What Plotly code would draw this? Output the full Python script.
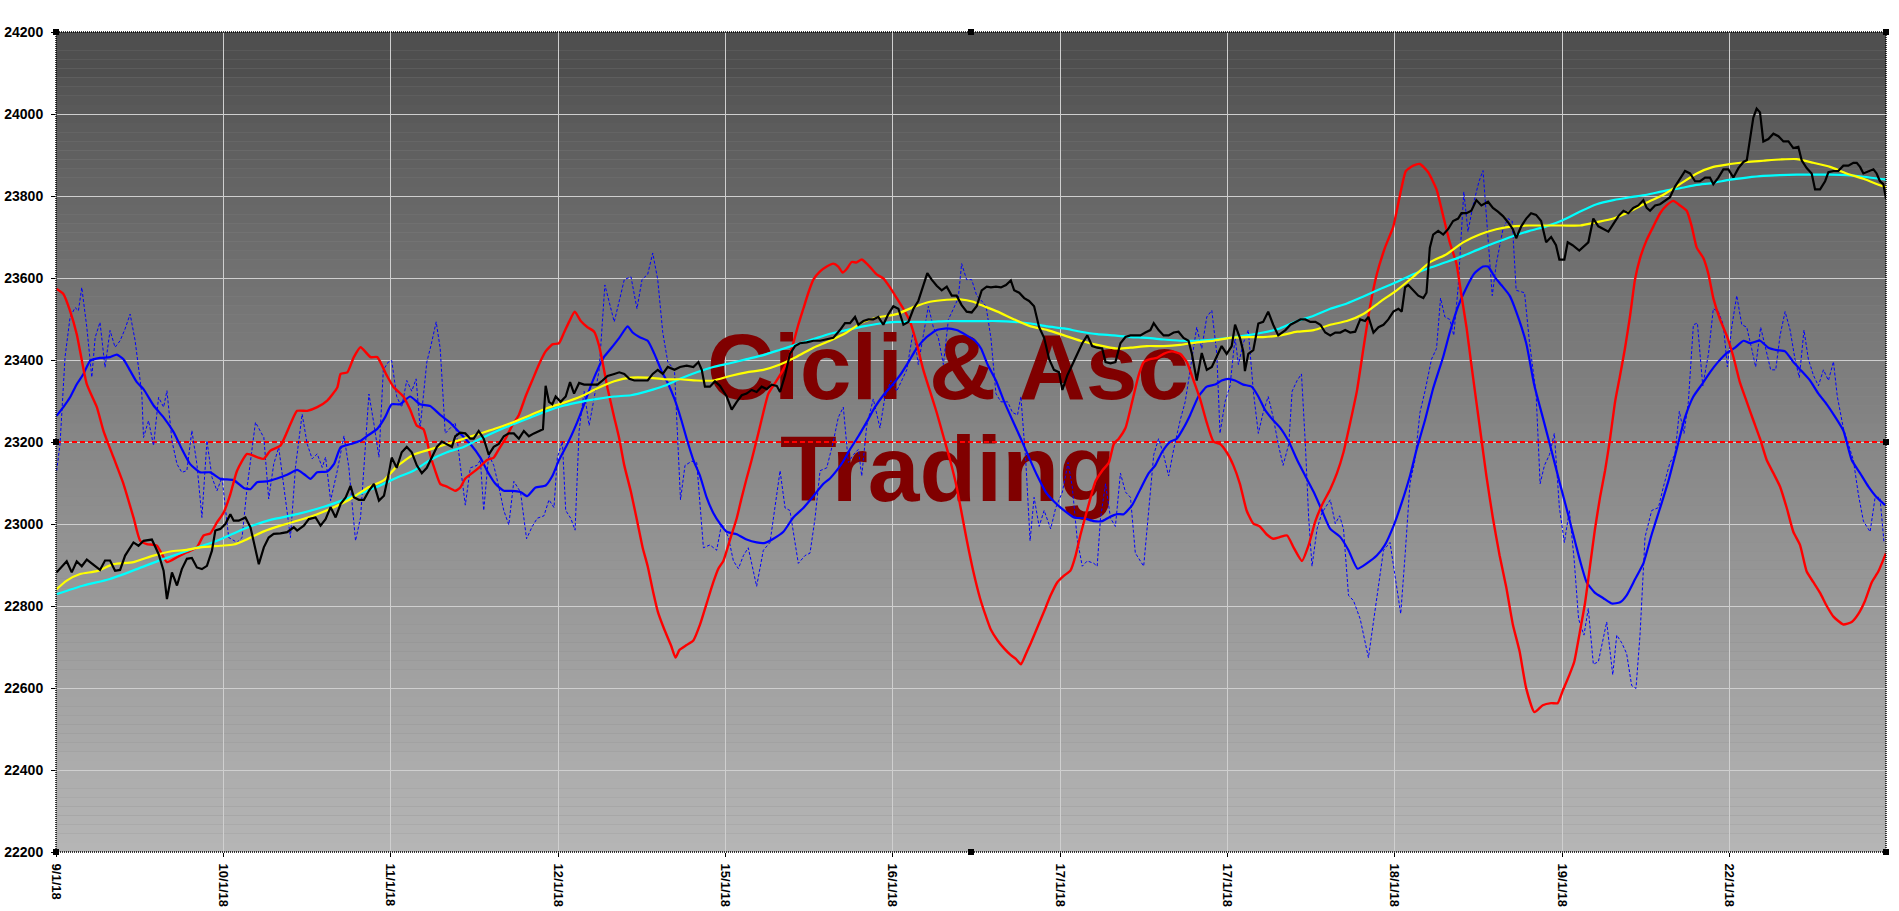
import plotly.graph_objects as go

# ---------------- data (x = position in date-label units, y = index level) ----------------
date_labels = ['9/1/18', '10/1/18', '11/1/18', '12/1/18', '15/1/18', '16/1/18',
               '17/1/18', '17/1/18', '18/1/18', '19/1/18', '22/1/18']
y_ticks = [22200, 22400, 22600, 22800, 23000, 23200, 23400, 23600, 23800, 24000, 24200]
zero_level = 23200
x_end = 10.936

price = [(0.004,22882),(0.064,22909),(0.094,22882),(0.124,22909),(0.154,22897),(0.184,22913),(0.244,22894),(0.263,22888),(0.293,22911),(0.323,22911),(0.353,22886),(0.383,22888),(0.413,22923),(0.463,22955),(0.493,22947),(0.523,22959),(0.573,22962),(0.613,22927),(0.643,22886),(0.663,22817),(0.693,22882),(0.723,22850),(0.752,22890),(0.782,22915),(0.812,22917),(0.842,22894),(0.872,22890),(0.902,22898),(0.932,22935),(0.952,22984),(0.982,22988),(1.012,23000),(1.042,23024),(1.062,23008),(1.092,23008),(1.132,23016),(1.162,22992),(1.192,22935),(1.212,22902),(1.242,22943),(1.271,22967),(1.301,22976),(1.341,22977),(1.381,22980),(1.421,22992),(1.441,22984),(1.481,22996),(1.511,23012),(1.551,23016),(1.581,22996),(1.611,23012),(1.641,23041),(1.671,23016),(1.701,23049),(1.731,23065),(1.760,23093),(1.780,23065),(1.810,23059),(1.840,23059),(1.870,23081),(1.900,23098),(1.930,23057),(1.960,23069),(1.990,23126),
         (2.006,23162),(2.036,23137),(2.066,23175),(2.096,23188),(2.126,23175),(2.156,23143),(2.186,23124),(2.216,23137),(2.246,23162),(2.276,23188),(2.306,23201),(2.336,23195),(2.366,23188),(2.386,23214),(2.416,23223),(2.446,23221),(2.476,23208),(2.496,23208),(2.526,23227),(2.556,23208),(2.586,23169),(2.616,23188),(2.646,23195),(2.676,23214),(2.706,23221),(2.736,23221),(2.766,23208),(2.796,23227),(2.826,23214),(2.856,23221),(2.886,23227),(2.910,23231),(2.926,23337),(2.946,23298),(2.966,23292),(2.986,23311),(3.016,23298),(3.046,23311),(3.072,23346),(3.096,23318),(3.126,23344),(3.156,23340),(3.196,23340),(3.236,23340),(3.266,23350),(3.296,23361),(3.336,23366),(3.366,23370),(3.396,23366),(3.426,23354),(3.456,23350),(3.496,23350),(3.536,23350),(3.566,23366),(3.596,23376),(3.626,23366),(3.656,23383),(3.696,23376),
         (3.729,23383),(3.769,23386),(3.809,23383),(3.839,23395),(3.859,23376),(3.878,23335),(3.908,23335),(3.938,23348),(3.968,23337),(4.008,23311),(4.038,23279),(4.068,23298),(4.098,23314),(4.127,23318),(4.157,23327),(4.187,23322),(4.217,23335),(4.247,23329),(4.277,23340),(4.307,23337),(4.327,23322),(4.357,23363),(4.386,23415),(4.416,23434),(4.446,23441),(4.486,23443),(4.526,23447),(4.566,23447),(4.606,23450),(4.645,23454),(4.685,23473),(4.715,23490),(4.745,23490),(4.775,23505),(4.795,23486),(4.825,23495),(4.855,23499),(4.884,23499),(4.914,23505),(4.944,23486),(4.974,23512),(5.004,23531),(5.034,23525),(5.064,23486),(5.094,23493),(5.124,23525),(5.153,23544),(5.183,23583),(5.207,23612),(5.233,23596),(5.263,23581),(5.293,23570),(5.323,23579),(5.353,23557),(5.382,23557),(5.412,23534),(5.442,23518),(5.472,23516),(5.502,23531),(5.532,23570),(5.562,23579),
         (5.587,23577),(5.617,23579),(5.647,23577),(5.677,23583),(5.706,23594),(5.726,23570),(5.756,23564),(5.786,23551),(5.815,23544),(5.845,23531),(5.875,23480),(5.905,23454),(5.935,23402),(5.964,23376),(5.994,23370),(6.014,23327),(6.044,23363),(6.073,23389),(6.103,23415),(6.133,23441),(6.163,23460),(6.192,23434),(6.222,23430),(6.252,23428),(6.272,23395),(6.302,23392),(6.331,23395),(6.361,23441),(6.391,23456),(6.421,23460),(6.450,23460),(6.480,23460),(6.510,23467),(6.540,23473),(6.560,23490),(6.589,23473),(6.619,23460),(6.649,23460),(6.679,23467),(6.708,23469),(6.738,23454),(6.768,23447),(6.788,23415),(6.817,23350),(6.847,23417),(6.877,23376),(6.907,23383),(6.937,23408),(6.966,23434),(6.996,23415),(7.026,23434),(7.046,23486),(7.075,23454),(7.095,23421),(7.105,23373),(7.125,23415),(7.155,23424),(7.185,23489),(7.214,23493),(7.244,23518),(7.274,23486),(7.304,23460),
         (7.347,23473),(7.377,23486),(7.407,23493),(7.437,23499),(7.466,23499),(7.496,23493),(7.526,23493),(7.556,23486),(7.585,23467),(7.615,23460),(7.645,23467),(7.675,23467),(7.704,23473),(7.734,23467),(7.764,23469),(7.794,23499),(7.823,23495),(7.843,23505),(7.873,23467),(7.903,23480),(7.933,23486),(7.962,23499),(7.992,23518),(8.022,23525),(8.042,23518),(8.062,23577),(8.081,23583),(8.111,23570),(8.141,23557),(8.171,23551),(8.190,23564),(8.210,23674),(8.230,23706),(8.260,23715),(8.290,23706),(8.319,23719),(8.349,23739),(8.379,23745),(8.399,23758),(8.429,23758),(8.458,23764),(8.488,23790),(8.518,23777),(8.558,23786),(8.587,23771),(8.617,23762),(8.647,23751),(8.677,23736),(8.706,23719),(8.726,23697),(8.756,23726),(8.786,23745),(8.815,23758),(8.845,23754),(8.875,23739),(8.905,23687),(8.935,23700),(8.964,23680),(8.984,23645),(9.014,23645),(9.034,23687),(9.063,23680),(9.103,23667),
         (9.157,23687),(9.187,23745),(9.217,23726),(9.247,23719),(9.277,23713),(9.307,23732),(9.337,23751),(9.367,23764),(9.396,23758),(9.426,23771),(9.456,23777),(9.486,23790),(9.506,23771),(9.526,23764),(9.556,23777),(9.586,23780),(9.616,23788),(9.645,23797),(9.675,23823),(9.705,23842),(9.735,23861),(9.765,23855),(9.795,23836),(9.825,23836),(9.855,23845),(9.884,23845),(9.904,23829),(9.934,23845),(9.964,23865),(9.994,23865),(10.024,23845),(10.054,23868),(10.084,23883),(10.104,23887),(10.124,23946),(10.143,23991),(10.163,24013),(10.183,24004),(10.203,23933),(10.233,23939),(10.263,23952),(10.293,23946),(10.323,23933),(10.353,23933),(10.382,23917),(10.412,23920),(10.432,23887),(10.462,23868),(10.492,23855),(10.512,23816),(10.542,23816),(10.572,23836),(10.592,23858),(10.622,23861),(10.651,23861),(10.681,23874),(10.711,23874),(10.741,23881),(10.761,23881),(10.781,23871),(10.801,23855),(10.831,23861),(10.861,23865),(10.880,23855),(10.900,23836),(10.920,23829),(10.936,23793)]

fast_ma = [(0.004,22841),(0.064,22862),(0.144,22878),(0.244,22885),(0.343,22902),(0.463,22907),(0.583,22923),(0.683,22933),(0.782,22937),(0.862,22943),(0.982,22947),(1.062,22950),(1.142,22963),(1.242,22982),(1.341,22996),(1.441,23008),(1.561,23024),(1.661,23041),(1.760,23061),(1.860,23088),(1.960,23107),(2.036,23140),(2.136,23169),(2.236,23182),(2.336,23195),(2.436,23208),(2.536,23221),(2.636,23234),(2.736,23249),(2.836,23266),(2.936,23283),(3.036,23296),(3.136,23311),(3.236,23331),(3.336,23348),(3.436,23357),(3.536,23357),(3.636,23353),(3.729,23353),(3.829,23350),(3.928,23350),(4.028,23361),(4.127,23370),(4.227,23376),(4.327,23389),(4.426,23408),(4.526,23430),(4.625,23447),(4.725,23467),(4.825,23493),(4.924,23505),(5.024,23512),(5.124,23529),(5.223,23542),(5.323,23547),(5.402,23548),(5.482,23542),(5.528,23534),(5.627,23518),(5.726,23499),(5.825,23482),(5.925,23473),(6.024,23460),(6.123,23447),(6.222,23437),(6.341,23428),(6.421,23430),(6.520,23434),(6.619,23434),(6.718,23437),(6.817,23443),(6.917,23447),(7.016,23454),(7.115,23456),(7.214,23456),(7.313,23460),(7.417,23469),(7.516,23473),(7.615,23486),(7.714,23495),(7.813,23512),(7.913,23542),(8.012,23570),(8.111,23603),(8.210,23638),(8.310,23658),(8.409,23687),(8.508,23706),(8.607,23719),(8.706,23726),(8.806,23728),(8.905,23728),(9.004,23728),(9.108,23728),(9.207,23736),(9.307,23745),(9.406,23762),(9.506,23784),(9.606,23803),(9.705,23829),(9.805,23855),(9.904,23871),(10.004,23878),(10.104,23883),(10.203,23886),(10.303,23889),(10.402,23890),(10.502,23881),(10.602,23871),(10.701,23855),(10.801,23842),(10.900,23826),(10.936,23821)]

slow_ma = [(0.004,22829),(0.164,22850),(0.323,22866),(0.483,22890),(0.643,22915),(0.802,22937),(0.962,22959),(1.122,22988),(1.281,23010),(1.441,23024),(1.601,23042),(1.760,23065),(1.920,23091),(2.036,23113),(2.136,23130),(2.236,23156),(2.336,23175),(2.436,23188),(2.536,23208),(2.636,23227),(2.736,23244),(2.836,23260),(2.936,23276),(3.036,23289),(3.136,23298),(3.236,23305),(3.336,23311),(3.436,23314),(3.536,23324),(3.636,23337),(3.729,23354),(3.829,23370),(3.928,23383),(4.028,23392),(4.127,23402),(4.227,23412),(4.327,23425),(4.426,23438),(4.526,23451),(4.625,23464),(4.725,23473),(4.825,23482),(4.924,23489),(5.024,23493),(5.124,23493),(5.223,23493),(5.323,23495),(5.422,23495),(5.528,23495),(5.627,23495),(5.726,23493),(5.825,23489),(5.925,23482),(6.024,23477),(6.123,23469),(6.222,23463),(6.321,23460),(6.421,23456),(6.520,23454),(6.619,23450),(6.718,23447),(6.817,23447),(6.917,23450),(7.016,23454),(7.115,23460),(7.214,23467),(7.313,23477),(7.417,23495),(7.516,23508),(7.615,23525),(7.714,23538),(7.813,23555),(7.913,23573),(8.012,23590),(8.111,23609),(8.210,23625),(8.310,23639),(8.409,23654),(8.508,23671),(8.607,23687),(8.706,23702),(8.806,23715),(8.905,23726),(9.004,23741),(9.108,23762),(9.207,23780),(9.307,23790),(9.406,23797),(9.506,23803),(9.606,23812),(9.705,23819),(9.805,23827),(9.904,23832),(10.004,23840),(10.104,23845),(10.203,23849),(10.303,23851),(10.402,23852),(10.502,23852),(10.602,23852),(10.701,23851),(10.801,23847),(10.936,23840)]

cycle_red = [(0.004,23573),(0.044,23561),(0.084,23520),(0.124,23463),(0.184,23341),(0.244,23285),(0.283,23228),(0.343,23163),(0.403,23098),(0.463,23016),(0.503,22959),(0.543,22951),(0.603,22947),(0.663,22907),(0.723,22919),(0.782,22931),(0.842,22943),(0.882,22972),(0.922,22977),(0.962,23004),(1.002,23028),(1.042,23073),(1.082,23130),(1.142,23171),(1.202,23163),(1.242,23159),(1.281,23179),(1.341,23191),(1.401,23244),(1.441,23276),(1.501,23276),(1.561,23285),(1.621,23301),(1.681,23333),(1.701,23366),(1.741,23370),(1.780,23407),(1.820,23431),(1.880,23407),(1.920,23407),(1.976,23363),(2.016,23335),(2.076,23311),(2.116,23279),(2.156,23240),(2.196,23231),(2.236,23169),(2.266,23130),(2.296,23098),(2.336,23091),(2.386,23081),(2.416,23089),(2.446,23111),(2.486,23124),(2.526,23137),(2.576,23156),(2.616,23162),(2.646,23182),(2.686,23208),(2.726,23240),(2.766,23266),(2.806,23311),(2.846,23350),(2.886,23389),(2.926,23421),(2.966,23438),(3.006,23441),(3.036,23467),(3.066,23493),(3.100,23518),(3.136,23495),(3.176,23480),(3.216,23469),(3.246,23434),(3.266,23395),(3.296,23331),(3.336,23260),(3.366,23208),(3.396,23143),(3.436,23078),(3.476,23001),(3.506,22942),(3.536,22897),(3.566,22839),(3.596,22787),(3.636,22742),(3.676,22703),(3.702,22674),(3.726,22693),(3.769,22705),(3.809,22716),(3.849,22755),(3.888,22806),(3.928,22858),(3.958,22891),(3.988,22910),(4.028,22962),(4.068,23014),(4.098,23065),(4.127,23111),(4.157,23156),(4.197,23221),(4.227,23272),(4.257,23318),(4.297,23344),(4.337,23370),(4.376,23402),(4.406,23441),(4.436,23486),(4.466,23525),(4.496,23564),(4.526,23596),(4.566,23616),(4.606,23628),(4.645,23635),(4.675,23628),(4.701,23613),(4.725,23622),(4.755,23639),(4.785,23638),(4.815,23645),(4.845,23635),(4.875,23622),(4.904,23609),(4.944,23599),(4.984,23577),(5.024,23551),(5.064,23525),(5.104,23493),(5.143,23441),(5.183,23376),(5.223,23324),(5.263,23272),(5.303,23214),(5.343,23156),(5.382,23091),(5.412,23027),(5.442,22962),(5.482,22884),(5.522,22819),(5.558,22774),(5.587,22742),(5.627,22716),(5.667,22696),(5.706,22680),(5.736,22671),(5.766,22658),(5.796,22683),(5.825,22709),(5.865,22748),(5.905,22787),(5.944,22826),(5.984,22858),(6.024,22874),(6.063,22887),(6.093,22923),(6.123,22975),(6.153,23020),(6.183,23065),(6.212,23104),(6.252,23130),(6.292,23150),(6.321,23195),(6.351,23208),(6.391,23234),(6.431,23298),(6.470,23363),(6.500,23395),(6.540,23402),(6.579,23405),(6.619,23415),(6.669,23421),(6.718,23415),(6.758,23395),(6.798,23350),(6.837,23305),(6.877,23247),(6.917,23201),(6.956,23195),(6.996,23175),(7.036,23143),(7.075,23098),(7.115,23033),(7.155,23001),(7.194,22994),(7.234,22975),(7.274,22964),(7.313,22968),(7.357,22972),(7.397,22942),(7.446,22910),(7.486,22949),(7.526,23007),(7.565,23046),(7.615,23085),(7.655,23124),(7.694,23175),(7.734,23247),(7.774,23324),(7.813,23428),(7.853,23531),(7.893,23609),(7.942,23674),(7.992,23726),(8.032,23803),(8.067,23861),(8.111,23874),(8.151,23878),(8.200,23858),(8.250,23816),(8.290,23751),(8.329,23687),(8.369,23635),(8.399,23557),(8.429,23480),(8.458,23389),(8.488,23298),(8.518,23208),(8.548,23117),(8.587,23014),(8.627,22923),(8.667,22845),(8.706,22755),(8.746,22690),(8.786,22599),(8.835,22541),(8.885,22558),(8.935,22563),(8.974,22563),(9.004,22593),(9.044,22632),(9.073,22664),(9.103,22729),(9.137,22806),(9.167,22897),(9.197,22988),(9.227,23065),(9.257,23130),(9.287,23208),(9.317,23298),(9.347,23363),(9.376,23428),(9.406,23506),(9.436,23596),(9.466,23648),(9.506,23693),(9.546,23726),(9.586,23758),(9.625,23777),(9.665,23788),(9.705,23777),(9.745,23764),(9.775,23726),(9.805,23674),(9.845,23648),(9.875,23609),(9.904,23551),(9.944,23499),(9.984,23460),(10.024,23408),(10.064,23344),(10.104,23298),(10.143,23253),(10.183,23208),(10.223,23156),(10.263,23124),(10.303,23091),(10.343,23039),(10.382,22981),(10.422,22949),(10.462,22884),(10.502,22858),(10.542,22832),(10.582,22800),(10.622,22774),(10.681,22755),(10.731,22761),(10.771,22781),(10.811,22813),(10.851,22858),(10.890,22884),(10.936,22929)]

cycle_blue = [(0.004,23264),(0.044,23285),(0.084,23309),(0.124,23341),(0.164,23366),(0.204,23398),(0.263,23405),(0.323,23407),(0.363,23413),(0.403,23402),(0.443,23374),(0.483,23346),(0.523,23329),(0.583,23289),(0.643,23260),(0.703,23224),(0.752,23183),(0.802,23146),(0.862,23126),(0.922,23126),(0.982,23110),(1.062,23107),(1.122,23088),(1.162,23085),(1.202,23102),(1.261,23104),(1.321,23111),(1.381,23120),(1.441,23132),(1.481,23122),(1.521,23110),(1.561,23126),(1.621,23128),(1.661,23146),(1.701,23187),(1.760,23195),(1.820,23203),(1.860,23215),(1.920,23232),(1.966,23260),(2.006,23292),(2.056,23292),(2.116,23311),(2.176,23292),(2.236,23288),(2.296,23266),(2.356,23247),(2.416,23221),(2.476,23195),(2.536,23162),(2.576,23130),(2.626,23098),(2.676,23081),(2.726,23081),(2.776,23078),(2.816,23068),(2.866,23089),(2.926,23094),(2.966,23117),(3.006,23156),(3.056,23195),(3.106,23240),(3.156,23292),(3.196,23337),(3.236,23376),(3.276,23408),(3.316,23428),(3.366,23454),(3.416,23482),(3.446,23467),(3.486,23456),(3.536,23447),(3.576,23415),(3.616,23376),(3.656,23344),(3.696,23305),(3.736,23255),(3.769,23208),(3.809,23156),(3.849,23117),(3.888,23065),(3.928,23027),(3.968,23001),(4.008,22981),(4.068,22975),(4.127,22962),(4.187,22955),(4.237,22954),(4.287,22964),(4.347,22981),(4.406,23016),(4.466,23039),(4.526,23068),(4.586,23098),(4.625,23111),(4.665,23130),(4.705,23153),(4.745,23182),(4.795,23214),(4.845,23249),(4.894,23285),(4.944,23314),(4.994,23337),(5.044,23363),(5.094,23395),(5.143,23428),(5.203,23456),(5.263,23473),(5.323,23477),(5.382,23473),(5.442,23460),(5.492,23447),(5.528,23428),(5.567,23389),(5.617,23350),(5.667,23298),(5.716,23253),(5.766,23208),(5.815,23162),(5.865,23117),(5.915,23078),(5.964,23055),(6.024,23033),(6.083,23016),(6.143,23014),(6.202,23007),(6.252,23007),(6.292,23016),(6.341,23024),(6.381,23024),(6.431,23046),(6.480,23085),(6.530,23124),(6.569,23143),(6.609,23175),(6.659,23201),(6.698,23208),(6.738,23234),(6.778,23266),(6.827,23311),(6.877,23335),(6.927,23340),(6.966,23350),(7.006,23354),(7.046,23350),(7.095,23340),(7.145,23335),(7.185,23311),(7.224,23279),(7.274,23253),(7.317,23234),(7.367,23201),(7.417,23156),(7.466,23117),(7.516,23078),(7.565,23033),(7.615,22988),(7.675,22968),(7.724,22936),(7.778,22891),(7.833,22904),(7.893,22923),(7.942,22949),(7.992,22994),(8.042,23052),(8.091,23117),(8.131,23182),(8.181,23253),(8.230,23331),(8.290,23408),(8.329,23467),(8.379,23531),(8.429,23577),(8.478,23612),(8.528,23628),(8.558,23628),(8.597,23603),(8.637,23583),(8.687,23557),(8.726,23518),(8.786,23441),(8.835,23337),(8.885,23260),(8.935,23182),(8.984,23104),(9.034,23027),(9.083,22949),(9.108,22910),(9.147,22858),(9.197,22832),(9.247,22819),(9.297,22806),(9.347,22809),(9.386,22826),(9.436,22865),(9.486,22904),(9.536,22975),(9.586,23039),(9.635,23104),(9.685,23182),(9.735,23260),(9.785,23311),(9.835,23340),(9.884,23370),(9.934,23396),(9.984,23417),(10.034,23430),(10.084,23447),(10.124,23441),(10.183,23447),(10.233,23430),(10.283,23424),(10.333,23421),(10.382,23395),(10.432,23373),(10.482,23350),(10.532,23318),(10.582,23292),(10.631,23262),(10.681,23228),(10.731,23156),(10.781,23124),(10.831,23091),(10.880,23065),(10.930,23046)]

cycle_raw = [(0.004,23130),(0.024,23195),(0.054,23407),(0.084,23504),(0.114,23528),(0.134,23520),(0.154,23577),(0.184,23480),(0.214,23358),(0.234,23455),(0.263,23492),(0.293,23382),(0.323,23472),(0.353,23431),(0.383,23447),(0.413,23476),(0.443,23512),(0.473,23447),(0.513,23317),(0.523,23211),(0.553,23252),(0.583,23191),(0.613,23309),(0.643,23285),(0.663,23325),(0.693,23203),(0.723,23146),(0.752,23126),(0.782,23130),(0.812,23228),(0.842,23146),(0.872,23016),(0.902,23203),(0.932,23114),(0.962,23081),(0.992,23114),(1.032,22967),(1.062,22959),(1.082,22955),(1.112,22967),(1.142,23089),(1.192,23248),(1.242,23211),(1.271,23061),(1.301,23146),(1.331,23187),(1.361,23089),(1.401,22967),(1.431,23138),(1.471,23268),(1.501,23195),(1.531,23159),(1.561,23171),(1.591,23138),(1.611,23163),(1.641,23057),(1.681,23130),(1.721,23215),(1.750,23138),(1.790,22959),(1.820,23016),(1.870,23317),(1.900,23244),(1.930,23163),
             (1.956,23376),(1.986,23395),(2.006,23399),(2.036,23311),(2.066,23285),(2.096,23350),(2.126,23324),(2.152,23354),(2.176,23234),(2.216,23395),(2.240,23434),(2.272,23493),(2.296,23428),(2.326,23221),(2.356,23234),(2.386,23247),(2.416,23143),(2.446,23046),(2.476,23137),(2.516,23143),(2.536,23156),(2.556,23033),(2.586,23169),(2.616,23143),(2.646,23091),(2.676,23033),(2.706,22998),(2.736,23104),(2.776,23078),(2.812,22964),(2.846,22994),(2.876,23014),(2.916,23020),(2.946,23059),(2.976,23040),(2.996,23162),(3.026,23201),(3.046,23033),(3.076,23014),(3.102,22985),(3.126,23227),(3.156,23324),(3.186,23240),(3.216,23311),(3.246,23376),(3.280,23583),(3.306,23544),(3.336,23493),(3.366,23544),(3.396,23596),(3.436,23603),(3.472,23525),(3.502,23596),(3.536,23609),(3.566,23661),(3.596,23596),(3.626,23467),(3.656,23395),(3.696,23376),(3.732,23059),(3.759,23143),(3.799,23153),(3.829,23150),(3.869,22942),(3.908,22949),(3.948,22936),(3.978,23001),(4.018,22968),(4.048,22910),(4.078,22891),(4.108,22923),(4.137,22942),(4.187,22848),(4.227,22936),(4.267,22955),(4.297,23039),(4.327,23130),(4.357,23039),(4.386,23033),(4.436,22904),(4.476,22923),(4.506,22929),(4.536,23014),(4.566,23130),(4.606,23137),(4.645,23201),(4.675,23260),(4.705,23285),(4.735,23150),(4.765,23169),(4.795,23182),(4.815,23117),(4.845,23240),(4.884,23305),(4.924,23234),(4.954,23311),(4.990,23350),(5.024,23324),(5.054,23350),(5.084,23376),(5.124,23473),(5.153,23389),(5.183,23460),(5.213,23531),(5.243,23480),(5.273,23454),(5.303,23389),(5.333,23499),(5.363,23525),(5.392,23551),(5.412,23635),(5.442,23596),(5.472,23596),(5.502,23557),(5.532,23544),(5.558,23531),(5.587,23454),(5.617,23318),(5.647,23298),(5.687,23298),(5.716,23272),(5.746,23266),(5.766,23311),(5.796,23150),(5.821,22959),(5.845,23065),(5.875,22994),(5.905,23033),(5.944,22988),(5.974,23039),(6.014,23078),(6.048,23150),(6.073,23091),(6.103,22962),(6.133,22897),(6.163,22910),(6.202,22904),(6.222,22897),(6.242,23014),(6.272,23098),(6.302,23014),(6.331,22994),(6.361,23124),(6.391,23078),(6.421,23065),(6.450,22929),(6.500,22897),(6.530,23040),(6.560,23169),(6.589,23208),(6.619,23169),(6.649,23117),(6.679,23182),(6.718,23253),(6.748,23298),(6.778,23376),(6.817,23480),(6.847,23428),(6.877,23505),(6.907,23521),(6.937,23415),(6.956,23221),(6.986,23298),(7.016,23337),(7.046,23454),(7.066,23389),(7.095,23441),(7.125,23473),(7.155,23324),(7.185,23221),(7.214,23272),(7.244,23311),(7.274,23260),(7.304,23195),(7.333,23143),(7.367,23195),(7.387,23324),(7.417,23350),(7.443,23366),(7.466,23195),(7.486,23014),(7.506,22897),(7.536,22988),(7.565,23027),(7.615,23059),(7.645,23001),(7.671,23020),(7.694,22988),(7.724,22826),(7.754,22813),(7.794,22768),(7.843,22674),(7.883,22794),(7.933,22936),(7.972,22955),(8.002,22871),(8.036,22781),(8.062,22923),(8.091,23098),(8.121,23156),(8.151,23272),(8.181,23324),(8.220,23402),(8.250,23428),(8.274,23551),(8.300,23505),(8.329,23499),(8.353,23460),(8.379,23577),(8.413,23810),(8.438,23713),(8.468,23777),(8.504,23836),(8.528,23862),(8.558,23706),(8.583,23557),(8.607,23635),(8.647,23719),(8.677,23745),(8.702,23739),(8.726,23570),(8.776,23564),(8.806,23441),(8.845,23318),(8.869,23098),(8.895,23143),(8.925,23169),(8.954,23221),(8.984,23040),(9.014,22955),(9.044,23033),(9.073,22910),(9.099,22768),(9.131,22729),(9.157,22794),(9.187,22658),(9.217,22664),(9.267,22761),(9.303,22632),(9.327,22729),(9.357,22710),(9.386,22684),(9.416,22606),(9.442,22599),(9.466,22729),(9.496,22968),(9.536,23033),(9.576,23040),(9.606,23091),(9.645,23150),(9.675,23169),(9.701,23275),(9.729,23221),(9.755,23298),(9.785,23486),(9.809,23490),(9.841,23337),(9.875,23415),(9.904,23525),(9.934,23518),(9.964,23486),(9.988,23383),(10.014,23480),(10.044,23557),(10.074,23486),(10.104,23480),(10.133,23428),(10.157,23383),(10.187,23480),(10.213,23434),(10.247,23376),(10.277,23376),(10.303,23460),(10.333,23518),(10.363,23473),(10.392,23402),(10.418,23357),(10.446,23473),(10.472,23402),(10.502,23363),(10.532,23337),(10.562,23376),(10.592,23350),(10.622,23396),(10.645,23311),(10.681,23234),(10.711,23195),(10.741,23156),(10.771,23072),(10.801,23007),(10.841,22981),(10.871,23065),(10.900,23065),(10.924,22955)]

watermark_lines = ['Cicli & Asc', 'Trading']


def xs(pts):
    return [p[0] for p in pts]


def ys(pts):
    return [p[1] for p in pts]


FONT = 'Liberation Sans, Arial, sans-serif'
y_lo, y_hi = y_ticks[0], y_ticks[-1]

fig = go.Figure()

# watermark (behind all lines)
wm_x = 5.33
wm_y = [23362, 23112]
for line, yy in zip(watermark_lines, wm_y):
    fig.add_trace(go.Scatter(x=[wm_x], y=[yy], mode='text', text=[line],
                             textposition='middle center',
                             textfont=dict(family=FONT, size=93, color='#800000', weight='bold'),
                             hoverinfo='skip', showlegend=False))

# zero line of the oscillators
fig.add_trace(go.Scatter(x=[0, x_end], y=[zero_level, zero_level], mode='lines',
                         line=dict(color='#ff0000', width=2, dash='5px,3px'),
                         hoverinfo='skip', showlegend=False))

fig.add_trace(go.Scatter(x=xs(cycle_raw), y=ys(cycle_raw), mode='lines',
                         line=dict(color='#0000ff', width=1, dash='3px,2px'), showlegend=False))
fig.add_trace(go.Scatter(x=xs(cycle_blue), y=ys(cycle_blue), mode='lines',
                         line=dict(color='#0000ff', width=2.2, shape='spline', smoothing=0.5), showlegend=False))
fig.add_trace(go.Scatter(x=xs(cycle_red), y=ys(cycle_red), mode='lines',
                         line=dict(color='#ff0000', width=2.4, shape='spline', smoothing=0.5), showlegend=False))
fig.add_trace(go.Scatter(x=xs(slow_ma), y=ys(slow_ma), mode='lines',
                         line=dict(color='#00ffff', width=2.2, shape='spline', smoothing=0.6), showlegend=False))
fig.add_trace(go.Scatter(x=xs(fast_ma), y=ys(fast_ma), mode='lines',
                         line=dict(color='#ffff00', width=2.2, shape='spline', smoothing=0.6), showlegend=False))
fig.add_trace(go.Scatter(x=xs(price), y=ys(price), mode='lines',
                         line=dict(color='#000000', width=2.2), showlegend=False))

# background vertical gradient (dark top -> light bottom)
shapes = []
n_bands = 90
for i in range(n_bands):
    f = (i + 0.5) / n_bands          # 0 = top, 1 = bottom
    if f < 0.055:
        c = 0x4f
    else:
        g = (f - 0.055) / 0.945
        c = 0x52 + (0xb5 - 0x52) * (g ** 0.85)
    c = int(round(c))
    shapes.append(dict(type='rect', xref='paper', yref='paper', x0=0, x1=1,
                       y0=1 - (i + 1) / n_bands, y1=1 - i / n_bands,
                       fillcolor=f'rgb({c},{c},{c})', line=dict(width=0), layer='below'))

# dotted plot frame
shapes.append(dict(type='rect', xref='paper', yref='paper', x0=0, x1=1, y0=0, y1=1,
                   line=dict(color='#000000', width=1.5, dash='1px,1px'), layer='above'))
# selection handles
for hx, hy in [(0, 1), (0.5, 1), (1, 1), (0, 0.5), (1, 0.5), (0, 0), (0.5, 0), (1, 0)]:
    shapes.append(dict(type='rect', xref='paper', yref='paper', xsizemode='pixel', ysizemode='pixel',
                       xanchor=hx, yanchor=hy, x0=-3, x1=3, y0=-3, y1=3,
                       fillcolor='#000000', line=dict(width=0), layer='above'))

fig.update_layout(
    width=1899, height=911,
    margin=dict(l=56, r=13, t=32, b=59, autoexpand=False),
    paper_bgcolor='#ffffff', plot_bgcolor='#888888',
    shapes=shapes, showlegend=False,
    font=dict(family=FONT, color='#000000'),
)
fig.update_xaxes(range=[0, x_end], tickmode='array', tickvals=list(range(len(date_labels))),
                 ticktext=date_labels, tickangle=90, ticks='outside', ticklen=4, tickcolor='#000000',
                 ticklabelstandoff=4,
                 tickfont=dict(family=FONT, size=13, color='#000000', weight='bold'),
                 showgrid=True, gridcolor='#cfcfcf', gridwidth=1, zeroline=False,
                 showline=False, automargin=False, fixedrange=True)
fig.update_yaxes(range=[y_lo, y_hi], tickmode='array', tickvals=y_ticks,
                 ticktext=[str(v) for v in y_ticks], ticks='outside', ticklen=4, tickcolor='#000000',
                 ticklabelstandoff=5,
                 tickfont=dict(family=FONT, size=14, color='#000000', weight='bold'),
                 showgrid=True, gridcolor='#cfcfcf', gridwidth=1, zeroline=False,
                 showline=False, automargin=False, fixedrange=True)

fig.write_html('out.html', config={'displayModeBar': False, 'staticPlot': True},
               post_script="document.body.style.margin='0px';document.body.style.overflow='hidden';")
